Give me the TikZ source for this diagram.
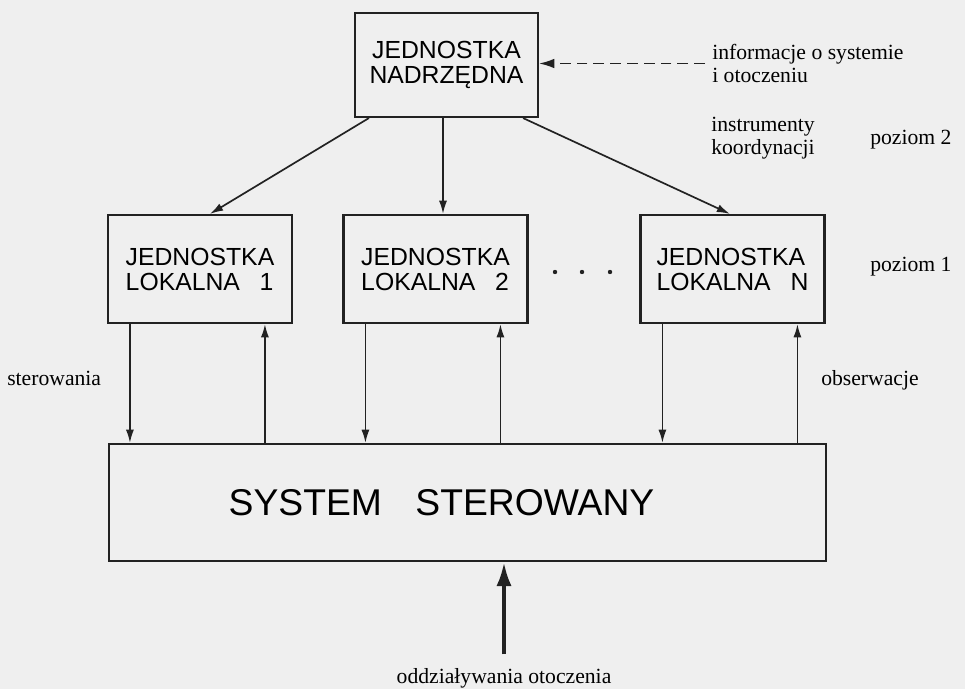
\documentclass[tikz,border=0pt]{standalone}
\usepackage{fontspec}
\setmainfont{Liberation Serif}
\newfontfamily\boxfont{Liberation Sans}
\usetikzlibrary{calc,arrows.meta}
\definecolor{scan}{RGB}{239,239,239}
\definecolor{ink}{RGB}{34,34,34}
\newcommand{\lok}[1]{JEDNOSTKA\\LOKALNA\hspace{.8em}#1}

\begin{document}
\begin{tikzpicture}[x=0.025cm,y=-0.025cm,
    box/.style={draw=ink,line width=1.5pt,inner sep=0pt,minimum width=4.6cm,minimum height=2.7cm,
                align=left,font=\boxfont\fontsize{17.6pt}{17.8pt}\selectfont},
    lab/.style={inner sep=0pt,align=left,font=\fontsize{15.4pt}{16.5pt}\selectfont},
    arr/.style={draw=ink,line width=1.2pt,-{Latex[length=0.33cm,width=0.2cm]}}]
  \fill[scan] (0,0) rectangle (965,689);
  \node[box,align=center,minimum width=4.575cm,minimum height=2.6cm] (top) at (446.5,65) {JEDNOSTKA\\NADRZĘDNA};
  \node[box] (loc1) at (200,269)   {\lok{1}};
  \node[box] (loc2) at (435.5,269) {\lok{2}};
  \node[box] (locN) at (732.5,269) {\lok{N}};
  \node[box,minimum width=17.925cm,minimum height=2.925cm,font=\boxfont\fontsize{26.5pt}{27pt}\selectfont] (sys) at (467.5,502.5) {SYSTEM\hspace{.9em}STEROWANY\hspace{1.3cm}};

  \node[lab,anchor=west] (info)  at (712,63.5) {informacje o systemie\\i otoczeniu};
  \node[lab,anchor=west] (instr) at (711,138)  {instrumenty\\koordynacji};
  \node[lab,anchor=west] (poz2)  at (870,140)  {poziom 2};
  \node[lab,anchor=west] (poz1)  at (870,267)  {poziom 1};
  \node[lab,anchor=west] (ster)  at (7,378)    {sterowania};
  \node[lab,anchor=west] (obs)   at (821,380)  {obserwacje};
  \node[lab] (env) at (504,678) {oddziaływania otoczenia};

  \draw[arr,dash pattern=on 0.27cm off 0.15cm,-{Latex[length=0.38cm,width=0.24cm]}] ([xshift=-0.175cm]info.west) -- (top.east |- info.west);
  \draw[arr] ($(top.south west)+(15,0)$) -- ($(loc1.north)+(10,0)$);
  \path ($(loc2.north)+(7.5,0)$) coordinate (l2n);
  \draw[arr] (l2n |- top.south) -- (l2n);
  \draw[arr] ($(top.south east)+(-16,0)$) -- ($(locN.north)+(-2.5,0)$);

  \foreach \n in {loc1,loc2,locN}{
    \path ($(\n.south west)+(23,0)$) coordinate (d) ($(\n.south west)+(158,0)$) coordinate (u);
    \draw[arr] (d) -- (d |- sys.north);
    \draw[arr] (u |- sys.north) -- (u);
  }
  \draw[draw=ink,line width=2.8pt,-{Latex[length=0.6cm,width=0.38cm]}] ([yshift=0.34cm]env.north) -- (env.north |- sys.south);

  \foreach \x in {555,582,610} \fill[ink] (\x,272) circle[radius=0.055cm];
\end{tikzpicture}
\end{document}
